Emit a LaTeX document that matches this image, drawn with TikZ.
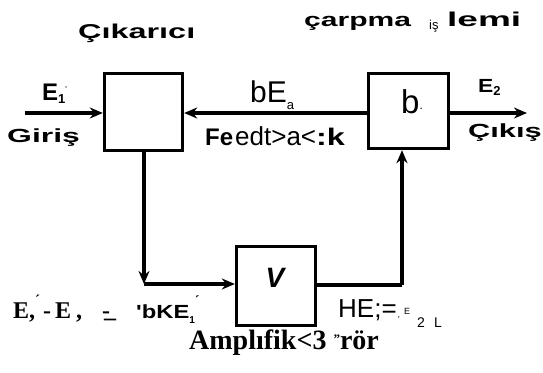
\documentclass[tikz,border=0pt]{standalone}
\usepackage{graphicx}
\usepackage{fontspec}
\setmainfont{Liberation Serif}
\newfontfamily\hand{Liberation Sans}
\newfontfamily\sans{Liberation Sans}
\usetikzlibrary{arrows.meta}
\newcommand{\hws}[3]{\scalebox{#2}[1]{\hand\bfseries\fontsize{#1}{#1}\selectfont #3}}
\begin{document}
\begin{tikzpicture}[x=1pt,y=-1pt,
  blk/.style={draw,line width=3.4pt,inner sep=0pt},
  wire/.style={line width=3.4pt},
  arr/.style={wire,-{Stealth[length=13pt,width=11pt]}},
  lab/.style={inner sep=0pt,anchor=base west},
  sr/.style={lab,font=\bfseries\fontsize{24}{26}\selectfont}]
\useasboundingbox (0,0) rectangle (543,372);
\node[blk,minimum width=78pt,minimum height=77pt] (sub) at (143.5,112) {};
\node[blk,minimum width=80pt,minimum height=75pt] (mul) at (408.5,111) {};
\node[blk,minimum width=79pt,minimum height=79pt] (amp) at (276,286) {};
\node[font=\sans\bfseries\itshape\fontsize{28}{28}\selectfont,inner sep=0pt] (vl) at (275,278) {V};
\node[lab,font=\hand\fontsize{33}{33}\selectfont] (bl) at (401,113) {b\raisebox{4pt}{\fontsize{12}{12}\selectfont .}};
\coordinate (in) at (25,113);
\coordinate (out) at (527,113);
\coordinate (c1) at (144,284);
\coordinate (c2) at (402,285);
\draw[arr] (in) -- (sub.west |- in);
\draw[arr] (mul.west |- in) -- (sub.east |- in);
\draw[arr] (mul.east |- out) -- (out);
\draw[arr] (sub.south -| c1) -- (c1);
\draw[arr] (c1) -- (amp.west |- c1);
\draw[wire] (amp.east |- c2) -- (c2);
\draw[arr] (c2) -- (c2 |- mul.south);
% labels
\node[lab] (t1) at (78,38) {\hws{20}{1.62}{Çıkarıcı}};
\node[lab] (t2a) at (304,27) {\hws{19}{1.58}{çarpma}};
\node[lab,font=\sans\fontsize{13}{13}\selectfont] (t2b) at (429,29) {iş};
\node[lab] (t2c) at (447,27) {\hws{20}{1.85}{lemi}};
\node[lab] (e1) at (42,100) {\hws{24}{1}{E}\raisebox{-3pt}{\hws{13}{1}{1}}\raisebox{8pt}{\fontsize{9}{9}\selectfont\textquotesingle}};
\node[lab] (gi) at (7,142) {\hws{19}{1.68}{Giriş}};
\node[lab] (e2) at (478,92) {\hws{19}{1.2}{E}\raisebox{-3pt}{\hws{13}{1}{2}}};
\node[lab] (ck) at (468,137) {\hws{19}{1.62}{Çıkış}};
\node[lab,font=\sans\fontsize{30}{30}\selectfont] (bea) at (250,102) {bE\raisebox{-7pt}{\fontsize{13}{13}\selectfont a}};
\node[lab] (fb) at (205,145) {\hws{24}{1}{Fe}\hspace{2pt}{\sans\fontsize{26}{26}\selectfont edt>a<}\hws{24}{1.35}{:k}};
\node[sr] (eq1) at (13,318) {E,\raisebox{13pt}{\fontsize{15}{15}\selectfont ´}\hspace{3pt}-\hspace{4pt}E\hspace{5pt},\hspace{20pt}-\hspace{-6pt}\raisebox{1pt}{\_}\hspace{20pt}\hws{19}{1.25}{\textquotesingle bKE}\raisebox{-5pt}{\hws{10}{1}{1}}\raisebox{13pt}{\fontsize{14}{14}\selectfont ´}};
\node[lab,font=\sans\fontsize{26}{26}\selectfont] (eq2) at (338,317) {HE;=\fontsize{9}{9}\selectfont\hspace{1pt},\hspace{4pt}\raisebox{3pt}{E}\hspace{7pt}\raisebox{-10pt}{\fontsize{14}{14}\selectfont 2\hspace{9pt}L}};
\node[lab,font=\bfseries\fontsize{28}{28}\selectfont] (amt) at (189,349) {Amplıfik<3 \raisebox{6pt}{\fontsize{13}{13}\selectfont"}rör};
\end{tikzpicture}
\end{document}
